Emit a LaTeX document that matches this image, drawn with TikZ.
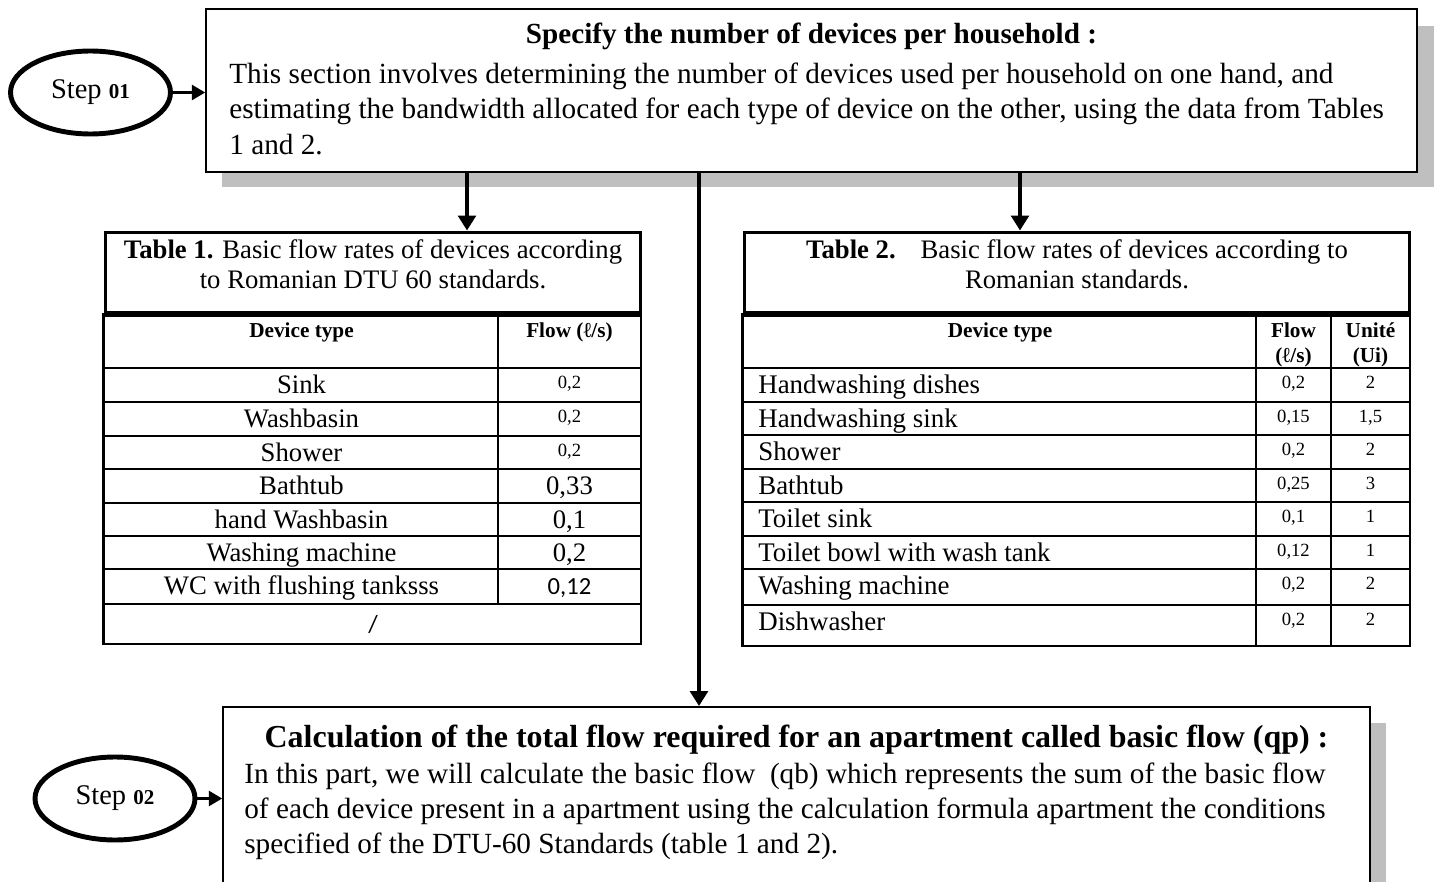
\documentclass[tikz,border=0pt]{standalone}
\usepackage{fontspec}
\setmainfont{Liberation Serif}
\newfontfamily\calibri{Carlito}
\usetikzlibrary{arrows.meta,positioning,calc,shapes.geometric}

\tikzset{
  stepnode/.style={draw,ellipse,line width=2.8pt,minimum width=3.2cm,minimum height=1.66cm,inner sep=0pt,font=\fontsize{16.2}{18}\selectfont},
  mainbox/.style={draw,line width=1.1pt,fill=white,inner sep=0pt},
  capbox/.style={draw,line width=1.7pt,inner sep=0pt},
  shadow/.style={fill=black!25},
  tline/.style={line width=1.6pt},
  bigarrow/.style={line width=2.4pt,-{Triangle[width=10pt,length=8.5pt]}},
  smallarrow/.style={line width=1.3pt,-{Triangle[width=8.5pt,length=7.5pt]}},
  bodytext/.style={anchor=base west,inner sep=0pt,font=\fontsize{16.65}{19}\selectfont},
  titletext/.style={anchor=base,inner sep=0pt,font=\bfseries\fontsize{16.6}{19}\selectfont},
  rowtext/.style={anchor=base,inner sep=0pt,font=\fontsize{15.2}{17}\selectfont},
  rowleft/.style={anchor=base west,inner sep=0pt,font=\fontsize{15.3}{17}\selectfont},
  smallval/.style={anchor=base,inner sep=0pt,font=\fontsize{10.6}{12}\selectfont},
  headtext/.style={anchor=base,inner sep=0pt,font=\bfseries\fontsize{12.1}{14}\selectfont},
}

\begin{document}
\begin{tikzpicture}[x=0.02cm,y=-0.02cm]
  \clip (0,0) rectangle (1438,882);

  %%%%%%%%%% Step 01 %%%%%%%%%%
  \fill[shadow] (222,26) rectangle (1434,187);
  \node (spec) at (811.5,90.5) [mainbox,minimum width=24.22cm,minimum height=3.26cm] {};
  \node (step1) at (90.5,92.5) [stepnode] {Step {\bfseries\fontsize{12}{13}\selectfont 01}};
  \node (specT) at (811.5,44) [titletext] {Specify the number of devices per household :};
  \node (specA) at (229,84) [bodytext] {This section involves determining the number of devices used per household on one hand, and};
  \node (specB) at (229,119) [bodytext] {estimating the bandwidth allocated for each type of device on the other, using the data from Tables};
  \node (specC) at (229,154) [bodytext] {1 and 2.};

  %%%%%%%%%% Table 1 %%%%%%%%%%
  \node (tabA) at (373,272.5) [capbox,minimum width=10.72cm,minimum height=1.62cm] {};
  \node (capA1) at (373,258) [rowtext] {\textbf{Table 1.} Basic flow rates of devices according};
  \node (capA2) at (373,288) [rowtext] {to Romanian DTU 60 standards.};
  \draw[tline] (tabA.south west) rectangle (641,644);
  \draw[line width=2.8pt] (tabA.south west) -- (tabA.south east);
  \foreach \y in {368,402,436,469,503,536,569,604}
    \draw[tline] (105,\y) -- (641,\y);
  \draw[tline] (498,313) -- (498,604);
  \node (hdA1) at (301.5,337) [headtext] {Device type};
  \node (hdA2) at (569.5,337) [headtext] {Flow (ℓ/s)};
  \foreach \y/\t in {393/Sink,427/Washbasin,461/Shower,494/Bathtub,528/hand Washbasin,561/Washing machine,594/WC with flushing tanksss}
    \node at (301.5,\y) [rowtext] {\t};
  \foreach \y in {388,422,456}
    \node at (569.5,\y) [smallval] {0,2};
  \node (vA4) at (569.5,494) [rowtext] {0,33};
  \node (vA5) at (569.5,528) [rowtext] {0,1};
  \node (vA6) at (569.5,561) [rowtext] {0,2};
  \node (vA7) at (569.5,594) [rowtext,font=\calibri\fontsize{14}{16}\selectfont] {0,12};
  \node (vA8) at (373,632) [rowtext,font=\calibri\fontsize{14}{16}\selectfont] {/};

  %%%%%%%%%% Table 2 %%%%%%%%%%
  \node (tabB) at (1077,272.5) [capbox,minimum width=13.32cm,minimum height=1.62cm] {};
  \node (capB1) at (1077,258) [rowtext] {\textbf{Table 2.}\hspace{0.6em} Basic flow rates of devices according to};
  \node (capB2) at (1077,288) [rowtext] {Romanian standards.};
  \draw[tline] (tabB.south west) rectangle (1410,646);
  \draw[line width=2.8pt] (tabB.south west) -- (tabB.south east);
  \foreach \y in {368,402,435,469,502,536,569,605}
    \draw[tline] (744,\y) -- (1410,\y);
  \draw[tline] (1256,313) -- (1256,646);
  \draw[tline] (1331,313) -- (1331,646);
  \node (hdB1) at (1000,337) [headtext] {Device type};
  \node (hdB2) at (1293.5,337) [headtext] {Flow};
  \node (hdB3) at (1293.5,362) [headtext] {(ℓ/s)};
  \node (hdB4) at (1370.5,337) [headtext] {Unité};
  \node (hdB5) at (1370.5,362) [headtext] {(Ui)};
  \foreach \y/\t/\q/\u in {393/Handwashing dishes/{0,2}/2,427/Handwashing sink/{0,15}/{1,5},460/Shower/{0,2}/2,494/Bathtub/{0,25}/3,527/Toilet sink/{0,1}/1,561/Toilet bowl with wash tank/{0,12}/1,594/Washing machine/{0,2}/2,630/Dishwasher/{0,2}/2}
  {
    \node at (758,\y) [rowleft] {\t};
    \node at (1293.5,\y-5) [smallval] {\q};
    \node at (1370.5,\y-5) [smallval] {\u};
  }

  %%%%%%%%%% Step 02 %%%%%%%%%%
  \fill[shadow] (239,723) rectangle (1386,900);
  \node (calc) at (796.5,803.5) [mainbox,minimum width=22.94cm,minimum height=3.86cm] {};
  \node (step2) at (115,798.5) [stepnode] {Step {\bfseries\fontsize{12}{13}\selectfont 02}};
  \node (calcT) at (796.5,747) [titletext,font=\bfseries\fontsize{18.2}{21}\selectfont] {Calculation of the total flow required for an apartment called basic flow (qp) :};
  \node (calcA) at (244,783) [bodytext] {In this part, we will calculate the basic flow \ (qb) which represents the sum of the basic flow};
  \node (calcB) at (244,818) [bodytext] {of each device present in a apartment using the calculation formula apartment the conditions};
  \node (calcC) at (244,853) [bodytext] {specified of the DTU-60 Standards (table 1 and 2).};

  %%%%%%%%%% Frecce %%%%%%%%%%
  \coordinate (armA) at ($(tabA.north)+(94,0)$);
  \coordinate (armB) at ($(tabB.north)+(-57,0)$);
  \coordinate (trunk) at ($(spec.south)+(-112.5,0)$);
  \draw[smallarrow] (step1.east) -- (step1.east -| spec.west);
  \draw[smallarrow] (step2.east) -- (step2.east -| calc.west);
  \draw[bigarrow] (armA |- spec.south) -- (armA);
  \draw[bigarrow] (armB |- spec.south) -- (armB);
  \draw[bigarrow] (trunk) -- (trunk |- calc.north);
\end{tikzpicture}
\end{document}
